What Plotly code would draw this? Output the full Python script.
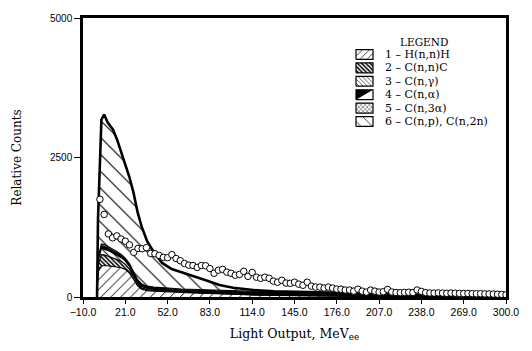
import plotly.graph_objects as go

# Light-output grid (MeVee) for the calculated component spectra
energy_grid = [0.3, 1.0, 3.5, 5.5, 8, 10, 12, 15, 18, 21, 24, 27, 30, 33, 37, 42, 48,
               55, 62, 70, 80, 90, 100, 115, 130, 145, 160, 180, 200, 220, 240, 260, 280, 300]

# Stacked component spectra (relative counts), bottom to top
h_nn_h = [0, 450, 560, 565, 560, 555, 550, 540, 525, 495, 430, 320, 200, 140, 115, 105, 95,
          90, 82, 75, 65, 55, 45, 35, 28, 22, 18, 14, 10, 8, 6, 4, 3, 2]
c_nn_c = [0, 120, 200, 190, 175, 165, 150, 130, 110, 90, 70, 50, 35, 25, 18, 14, 12,
          10, 9, 8, 7, 6, 5, 4, 4, 3, 3, 2, 2, 1, 1, 1, 0, 0]
c_n_gamma = [0, 80, 110, 105, 100, 95, 90, 80, 70, 60, 50, 40, 30, 25, 20, 16, 13,
             11, 10, 9, 8, 7, 6, 5, 5, 4, 4, 3, 3, 2, 2, 2, 1, 1]
c_n_alpha = [0, 30, 50, 50, 45, 42, 40, 38, 36, 34, 32, 30, 30, 30, 30, 30, 30,
             30, 30, 32, 34, 36, 38, 40, 45, 42, 38, 33, 28, 24, 20, 16, 12, 10]
c_n_3alpha = [0, 20, 30, 30, 28, 26, 25, 22, 20, 18, 16, 15, 14, 13, 12, 12, 12,
              12, 12, 12, 12, 12, 12, 12, 10, 10, 9, 8, 7, 6, 5, 4, 4, 3]
c_np_c_n2n = [0, 700, 2230, 2330, 2222, 2187, 2145, 2010, 1839, 1683, 1552, 1415, 1211, 1027, 805, 623, 448,
              347, 297, 244, 174, 99, 59, 29, 8, 9, 8, 10, 10, 11, 11, 11, 10, 9]

# Measured spectrum (open circles), one value per 3.1 MeVee bin starting at 2.4 MeVee
meas_start = 2.4
meas_step = 3.1
measured = [1750, 1480, 1130, 1060, 1095, 1040, 1000, 935, 800, 870,
            865, 885, 780, 775, 745, 710, 705, 760, 690, 650,
            600, 570, 565, 530, 565, 560, 510, 425, 480, 495,
            445, 425, 390, 405, 460, 370, 440, 355, 335, 355,
            335, 285, 265, 300, 250, 245, 265, 230, 210, 265,
            195, 178, 178, 160, 178, 160, 142, 140, 125, 125,
            105, 140, 105, 88, 124, 105, 88, 95, 135, 90,
            80, 78, 82, 85, 80, 125, 100, 78, 72, 70,
            74, 70, 66, 70, 68, 64, 62, 64, 60, 58,
            60, 55, 55, 52, 50, 45, 40]
meas_x = [round(meas_start + meas_step * i, 2) for i in range(len(measured))]

legend_labels = ["1 \u2013 H(n,n)H", "2 \u2013 C(n,n)C", "3 \u2013 C(n,\u03b3)",
                 "4 \u2013 C(n,\u03b1)", "5 \u2013 C(n,3\u03b1)", "6 \u2013 C(n,p), C(n,2n)"]
x_ticks = [-10, 21, 52, 83, 114, 145, 176, 207, 238, 269, 300]
y_ticks = [0, 2500, 5000]

components = [h_nn_h, c_nn_c, c_n_gamma, c_n_alpha, c_n_3alpha, c_np_c_n2n]
# hatch style for each component: (shape, size, solidity, solid fill colour)
hatch = [("/", 7, 0.14, None),
         ("\\", 3, 0.5, None),
         ("\\", 5, 0.2, None),
         ("", 8, 0.3, "black"),
         ("x", 5, 0.25, None),
         ("\\", 12, 0.09, None)]

SERIF = "DejaVu Serif"
SANS = "Liberation Sans"


def pattern(shape, size, sol):
    return dict(shape=shape, size=size, solidity=sol, fgcolor="black",
                fgopacity=1, bgcolor="white")


fig = go.Figure()

for i, (vals, (shape, size, sol, solid)) in enumerate(zip(components, hatch)):
    kw = dict(fillcolor=solid) if solid else dict(fillcolor="white",
                                                  fillpattern=pattern(shape, size, sol))
    fig.add_trace(go.Scatter(
        x=energy_grid, y=vals, stackgroup="calc", mode="lines",
        line=dict(color="black", width=2.6 if i == len(components) - 1 else 1.2),
        showlegend=False, hoverinfo="skip", **kw))

fig.add_trace(go.Scatter(
    x=meas_x, y=measured, mode="markers",
    marker=dict(symbol="circle", size=6.5, color="white", line=dict(color="black", width=1)),
    showlegend=False, hoverinfo="skip"))

# Hand-built legend drawn on a pixel-unit overlay axis (plot area is 423 x 283 px)
PW, PH = 423, 283
sw_x0, sw_x1 = 273, 290
row_top = 246
row_gap = 13.6
for i, (shape, size, sol, solid) in enumerate(hatch):
    yc = row_top - row_gap * i
    y0, y1 = yc - 5, yc + 5
    if solid:
        fig.add_trace(go.Scatter(
            x=[sw_x0, sw_x1, sw_x0, sw_x0], y=[y0, y1, y1, y0], xaxis="x2", yaxis="y2",
            mode="lines", fill="toself", fillcolor="black", line=dict(color="black", width=0),
            showlegend=False, hoverinfo="skip"))
        fig.add_trace(go.Scatter(
            x=[sw_x0, sw_x1, sw_x1, sw_x0, sw_x0], y=[y0, y0, y1, y1, y0], xaxis="x2", yaxis="y2",
            mode="lines", line=dict(color="black", width=1.2),
            showlegend=False, hoverinfo="skip"))
    else:
        sw_size = 8 if i == 5 else max(size - 2, 3)
        fig.add_trace(go.Scatter(
            x=[sw_x0, sw_x1, sw_x1, sw_x0, sw_x0], y=[y0, y0, y1, y1, y0], xaxis="x2", yaxis="y2",
            mode="lines", fill="toself", fillcolor="white",
            fillpattern=pattern(shape, sw_size, sol),
            line=dict(color="black", width=1.2), showlegend=False, hoverinfo="skip"))
    fig.add_annotation(x=300, y=yc, xref="x2", yref="y2", text=legend_labels[i],
                       showarrow=False, xanchor="left", yanchor="middle",
                       font=dict(family=SERIF, size=11, color="black"))

fig.add_annotation(x=341, y=row_top + 13, xref="x2", yref="y2", text="LEGEND",
                   showarrow=False, xanchor="center", yanchor="middle",
                   font=dict(family=SERIF, size=10.5, color="black"))

fig.update_layout(
    width=532, height=351,
    margin=dict(l=83, r=26, t=14, b=54),
    paper_bgcolor="white", plot_bgcolor="white",
    showlegend=False,
    xaxis=dict(range=[-10, 300], tickvals=x_ticks,
               ticktext=[f"{v:.1f}".replace("-", "\u2212") for v in x_ticks],
               ticks="outside", ticklen=4, tickwidth=1.2, tickcolor="black",
               showline=True, mirror=True, linewidth=2.5, linecolor="black",
               showgrid=False, zeroline=False,
               tickfont=dict(family=SANS, size=10.5, color="black"),
               title=dict(text="Light Output, MeV<sub>ee</sub>", standoff=12,
                          font=dict(family=SERIF, size=12.5, color="black"))),
    yaxis=dict(range=[0, 5000], tickvals=y_ticks, ticktext=[str(v) for v in y_ticks],
               ticks="outside", ticklen=6, tickwidth=1.2, tickcolor="black",
               showline=True, mirror=True, linewidth=2.5, linecolor="black",
               showgrid=False, zeroline=False,
               tickfont=dict(family=SANS, size=10, color="black"),
               title=dict(text="Relative Counts", standoff=26,
                          font=dict(family=SERIF, size=12, color="black"))),
    xaxis2=dict(range=[0, PW], overlaying="x", anchor="y2", visible=False),
    yaxis2=dict(range=[0, PH], overlaying="y", anchor="x2", visible=False),
)

fig.write_html("out.html")
